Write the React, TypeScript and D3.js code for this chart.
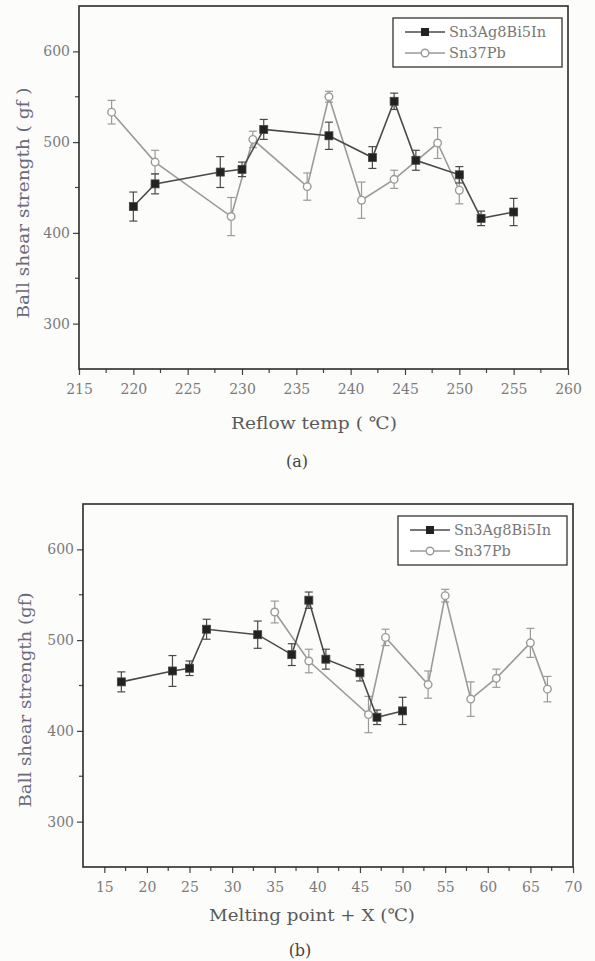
import { useRef, useEffect } from 'react';
import * as d3 from 'd3';

// (a) reflow temperature
const tempAg = [220, 222, 228, 230, 232, 238, 242, 244, 246, 250, 252, 255];
const strengthAgA = [429, 454, 467, 470, 514, 507, 483, 545, 480, 464, 416, 423];
const errAgA = [16, 11, 17, 8, 11, 15, 12, 9, 11, 9, 8, 15];
const tempPb = [218, 222, 229, 231, 236, 238, 241, 244, 248, 250];
const strengthPbA = [533, 478, 418, 503, 451, 550, 436, 459, 499, 447];
const errPbA = [13, 13, 21, 9, 15, 6, 20, 10, 17, 15];

// (b) melting point + X
const meltAg = [17, 23, 25, 27, 33, 37, 39, 41, 45, 47, 50];
const strengthAgB = [454, 466, 469, 512, 506, 484, 544, 479, 464, 415, 422];
const errAgB = [11, 17, 8, 11, 15, 12, 9, 11, 9, 8, 15];
const meltPb = [35, 39, 46, 48, 53, 55, 58, 61, 65, 67];
const strengthPbB = [531, 477, 418, 503, 451, 549, 435, 458, 497, 446];
const errPbB = [12, 13, 20, 9, 15, 7, 19, 10, 16, 14];

const yTicks = [300, 400, 500, 600];
const yMinor = [350, 450, 550];
const xTicksA = [215, 220, 225, 230, 235, 240, 245, 250, 255, 260];
const xTicksB = [15, 20, 25, 30, 35, 40, 45, 50, 55, 60, 65, 70];
const seriesNames = ['Sn3Ag8Bi5In', 'Sn37Pb'];

const SERIF = 'DejaVu Serif, serif';

function drawPanel(svg, p) {
  const x = d3.scaleLinear().domain(p.xDomain).range([p.left, p.right]);
  const y = d3.scaleLinear().domain([250, 650]).range([p.bottom, p.top]);
  const g = svg.append('g');

  // axes
  const xAxis = g.append('g')
    .attr('transform', `translate(0,${p.bottom})`)
    .call(d3.axisBottom(x).tickValues(p.xTicks).tickSize(6).tickSizeOuter(0).tickPadding(9).tickFormat(d3.format('d')));
  const yAxis = g.append('g')
    .attr('transform', `translate(${p.left},0)`)
    .call(d3.axisLeft(y).tickValues(yTicks).tickSize(6).tickSizeOuter(0).tickPadding(3).tickFormat(d3.format('d')));
  [xAxis, yAxis].forEach(a => {
    a.select('.domain').remove();
    a.selectAll('line').attr('stroke', '#444').attr('stroke-width', 1.2);
    a.selectAll('text').attr('fill', '#7a7a7a').style('font-family', SERIF).style('font-size', '14px');
  });

  // minor ticks
  const xMinor = p.xTicks.slice(0, -1).map(v => v + 2.5);
  g.append('g').selectAll('line').data(xMinor).join('line')
    .attr('x1', d => x(d)).attr('x2', d => x(d))
    .attr('y1', p.bottom).attr('y2', p.bottom + 4)
    .attr('stroke', '#444').attr('stroke-width', 1.2);
  g.append('g').selectAll('line').data(yMinor).join('line')
    .attr('y1', d => y(d)).attr('y2', d => y(d))
    .attr('x1', p.left).attr('x2', p.left - 4)
    .attr('stroke', '#444').attr('stroke-width', 1.2);

  // frame
  g.append('rect')
    .attr('x', p.left).attr('y', p.top)
    .attr('width', p.right - p.left).attr('height', p.bottom - p.top)
    .attr('fill', 'none').attr('stroke', '#2b2b2b').attr('stroke-width', 1.6);

  const line = d3.line().x(d => x(d.x)).y(d => y(d.y));

  const drawSeries = (xs, ys, es, color, filled) => {
    const data = xs.map((v, i) => ({ x: v, y: ys[i], e: es[i] }));
    const s = g.append('g');
    s.append('path').datum(data).attr('d', line)
      .attr('fill', 'none').attr('stroke', color).attr('stroke-width', 1.6);
    const eb = s.append('g').selectAll('g').data(data).join('g')
      .attr('stroke', color).attr('stroke-width', 1.2);
    eb.append('line').attr('x1', d => x(d.x)).attr('x2', d => x(d.x))
      .attr('y1', d => y(d.y - d.e)).attr('y2', d => y(d.y + d.e));
    eb.append('line').attr('x1', d => x(d.x) - 4).attr('x2', d => x(d.x) + 4)
      .attr('y1', d => y(d.y + d.e)).attr('y2', d => y(d.y + d.e));
    eb.append('line').attr('x1', d => x(d.x) - 4).attr('x2', d => x(d.x) + 4)
      .attr('y1', d => y(d.y - d.e)).attr('y2', d => y(d.y - d.e));
    if (filled) {
      s.append('g').selectAll('rect').data(data).join('rect')
        .attr('x', d => x(d.x) - 4).attr('y', d => y(d.y) - 4)
        .attr('width', 8).attr('height', 8)
        .attr('fill', '#222').attr('stroke', '#444').attr('stroke-width', 0.8);
    } else {
      s.append('g').selectAll('circle').data(data).join('circle')
        .attr('cx', d => x(d.x)).attr('cy', d => y(d.y)).attr('r', 3.8)
        .attr('fill', '#fff').attr('stroke', color).attr('stroke-width', 1.4);
    }
  };

  drawSeries(p.pbX, p.pbY, p.pbE, '#9a9a9a', false);
  drawSeries(p.agX, p.agY, p.agE, '#4a4a4a', true);

  // legend
  const lg = g.append('g');
  lg.append('rect')
    .attr('x', p.right - 175).attr('y', p.top + 12)
    .attr('width', 169).attr('height', 49)
    .attr('fill', '#fff').attr('stroke', '#333').attr('stroke-width', 1.3);
  seriesNames.forEach((name, i) => {
    const ly = p.top + 26 + i * 21;
    const lx = p.right - 163;
    const c = i === 0 ? '#4a4a4a' : '#9a9a9a';
    lg.append('line').attr('x1', lx).attr('x2', lx + 40).attr('y1', ly).attr('y2', ly)
      .attr('stroke', c).attr('stroke-width', 1.5);
    if (i === 0) {
      lg.append('rect').attr('x', lx + 16).attr('y', ly - 4).attr('width', 8).attr('height', 8).attr('fill', '#222');
    } else {
      lg.append('circle').attr('cx', lx + 20).attr('cy', ly).attr('r', 3.8)
        .attr('fill', '#fff').attr('stroke', c).attr('stroke-width', 1.4);
    }
    lg.append('text').attr('x', lx + 44).attr('y', ly + 5)
      .attr('fill', '#777').style('font-family', SERIF).style('font-size', '14.5px')
      .text(name);
  });

  // titles
  g.append('text')
    .attr('transform', `translate(${p.yTitleX},${p.yTitleY}) rotate(-90)`)
    .attr('text-anchor', 'middle')
    .attr('textLength', p.yTitleLen).attr('lengthAdjust', 'spacingAndGlyphs')
    .attr('fill', '#6a6a7a').style('font-family', SERIF).style('font-size', '16px')
    .text(p.yTitle);
  g.append('text')
    .attr('x', p.xTitleX).attr('y', p.xTitleY)
    .attr('text-anchor', 'middle')
    .attr('textLength', p.xTitleLen).attr('lengthAdjust', 'spacingAndGlyphs')
    .attr('fill', '#5a5a5a').style('font-family', SERIF).style('font-size', '17px')
    .text(p.xTitle);
  g.append('text')
    .attr('x', p.capX).attr('y', p.capY)
    .attr('text-anchor', 'middle')
    .attr('fill', '#444').style('font-family', SERIF).style('font-size', '16px')
    .text(p.caption);
}

function App() {
  const ref = useRef(null);

  useEffect(() => {
    const svgEl = ref.current;
    if (!svgEl) return;
    const svg = d3.select(svgEl);
    svg.selectAll('*').remove();

    svg.append('rect').attr('width', 595).attr('height', 961).attr('fill', '#fcfcfa');

    drawPanel(svg, {
      xDomain: [215, 260], xTicks: xTicksA,
      left: 79, right: 568, top: 6, bottom: 369,
      agX: tempAg, agY: strengthAgA, agE: errAgA,
      pbX: tempPb, pbY: strengthPbA, pbE: errPbA,
      yTitle: 'Ball shear strength ( gf )', yTitleX: 29, yTitleY: 203, yTitleLen: 231,
      xTitle: 'Reflow temp ( ℃)', xTitleX: 314, xTitleY: 429, xTitleLen: 166,
      caption: '(a)', capX: 297, capY: 467,
    });

    drawPanel(svg, {
      xDomain: [12.5, 70], xTicks: xTicksB,
      left: 83, right: 573, top: 504, bottom: 867,
      agX: meltAg, agY: strengthAgB, agE: errAgB,
      pbX: meltPb, pbY: strengthPbB, pbE: errPbB,
      yTitle: 'Ball shear strength (gf)', yTitleX: 31, yTitleY: 700, yTitleLen: 215,
      xTitle: 'Melting point + X (℃)', xTitleX: 312, xTitleY: 921, xTitleLen: 206,
      caption: '(b)', capX: 300, capY: 956,
    });
  }, []);

  return (
    <svg ref={ref} width={595} height={961}
      style={{ position: 'absolute', left: 0, top: 0, display: 'block' }} />
  );
}

export default App;
